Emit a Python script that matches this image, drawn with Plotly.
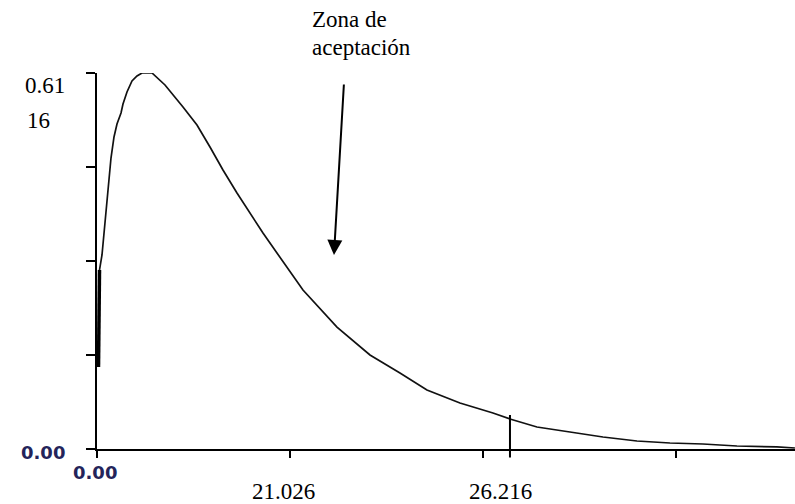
import plotly.graph_objects as go

# Density curve (x in axis units, y in density units)
curve_x = [0.078, 0.130, 0.259, 0.415, 0.570, 0.725, 0.881, 1.036, 1.244, 1.347,
           1.554, 1.813, 2.073, 2.332, 2.850, 3.523, 4.456, 5.181, 5.855, 6.528,
           7.254, 7.927, 8.601, 9.326, 9.896, 10.674, 12.435, 14.145, 15.699, 17.098,
           18.808, 20.518, 21.399, 22.798, 24.508, 26.218, 27.979, 29.689, 31.399, 33.161,
           35.233, 36.166]
curve_y = [0.1334, 0.2912, 0.3156, 0.3692, 0.4245, 0.4733, 0.5075, 0.5286, 0.5465, 0.5612,
           0.5807, 0.5986, 0.6067, 0.6116, 0.6116, 0.5921, 0.5563, 0.5270, 0.4912, 0.4538,
           0.4164, 0.3839, 0.3513, 0.3188, 0.2928, 0.2586, 0.1984, 0.1529, 0.1236, 0.0960,
           0.0748, 0.0586, 0.0488, 0.0358, 0.0277, 0.0195, 0.0130, 0.0098, 0.0081, 0.0049,
           0.0033, 0.0016]

y_max = 0.6116
y_ticks = [0.0, 0.1529, 0.3058, 0.4587, 0.6116]
x_ticks = [0, 10, 20, 30]
x_max = 36.17

crit_x = 21.40
crit_top = 0.0553
crit_bottom = -0.0163

x_labels = ["21.026", "26.216"]
y_top_label = ["0.61", "16"]
zero_label = "0.00"
zone_label = ["Zona de", "aceptación"]

serif = "Liberation Serif, Times New Roman, serif"

fig = go.Figure()
fig.add_trace(go.Scatter(x=curve_x, y=curve_y, mode="lines",
                         line=dict(color="#111111", width=1.7), hoverinfo="skip"))
fig.add_trace(go.Scatter(x=curve_x[:2], y=curve_y[:2], mode="lines",
                         line=dict(color="#000000", width=3.5), hoverinfo="skip"))

ann = []
# critical value line
ann.append(dict(x=crit_x, y=crit_top, xref="x", yref="y", axref="x", ayref="y",
                ax=crit_x, ay=crit_bottom, text="", showarrow=True, arrowhead=0,
                arrowwidth=2, arrowcolor="#000000"))
# acceptance zone arrow
ann.append(dict(x=0.3395, y=0.516, xref="paper", yref="paper", ax=10, ay=-172,
                text="", showarrow=True, arrowhead=2, arrowsize=1.5, arrowwidth=2,
                arrowcolor="#000000", standoff=0))
ann.append(dict(x=0.3052, y=1.1436, xref="paper", yref="paper", text=zone_label[0],
                showarrow=False, xanchor="left", yanchor="middle",
                font=dict(family=serif, size=23, color="#000000")))
ann.append(dict(x=0.3052, y=1.069, xref="paper", yref="paper", text=zone_label[1],
                showarrow=False, xanchor="left", yanchor="middle",
                font=dict(family=serif, size=23, color="#000000")))
# top y label split on two lines
ann.append(dict(x=-0.106, y=0.968, xref="paper", yref="paper", text=y_top_label[0],
                showarrow=False, xanchor="left", yanchor="middle",
                font=dict(family=serif, size=23, color="#000000")))
ann.append(dict(x=-0.103, y=0.875, xref="paper", yref="paper", text=y_top_label[1],
                showarrow=False, xanchor="left", yanchor="middle",
                font=dict(family=serif, size=23, color="#000000")))
# x labels
for lab, px in zip(x_labels, [0.2665, 0.5774]):
    ann.append(dict(x=px, y=-0.114, xref="paper", yref="paper", text=lab,
                    showarrow=False, xanchor="center", yanchor="middle",
                    font=dict(family=serif, size=23, color="#000000")))
# zero labels
ann.append(dict(x=-0.0774, y=-0.008, xref="paper", yref="paper", text=zero_label,
                showarrow=False, xanchor="center", yanchor="middle",
                font=dict(family="DejaVu Sans, Verdana, sans-serif", size=18,
                          color="#24245a", weight="bold")))
ann.append(dict(x=-0.003, y=-0.0638, xref="paper", yref="paper", text=zero_label,
                showarrow=False, xanchor="center", yanchor="middle",
                font=dict(family="DejaVu Sans, Verdana, sans-serif", size=18,
                          color="#24245a", weight="bold")))

fig.update_layout(
    width=795, height=504,
    margin=dict(l=97, r=0, t=73, b=55),
    paper_bgcolor="#ffffff", plot_bgcolor="#ffffff",
    showlegend=False,
    annotations=ann,
    xaxis=dict(range=[0, x_max], tickvals=x_ticks, showticklabels=False,
               ticks="outside", ticklen=7, tickwidth=2, tickcolor="#000000",
               showline=True, linecolor="#000000", linewidth=2,
               showgrid=False, zeroline=False, fixedrange=True),
    yaxis=dict(range=[0, y_max], tickvals=y_ticks, showticklabels=False,
               ticks="outside", ticklen=9, tickwidth=2, tickcolor="#000000",
               showline=True, linecolor="#000000", linewidth=2,
               showgrid=False, zeroline=False, fixedrange=True),
)

fig.write_html("out.html", config={"displayModeBar": False},
               post_script="document.body.style.margin='0';document.body.style.overflow='hidden';")
